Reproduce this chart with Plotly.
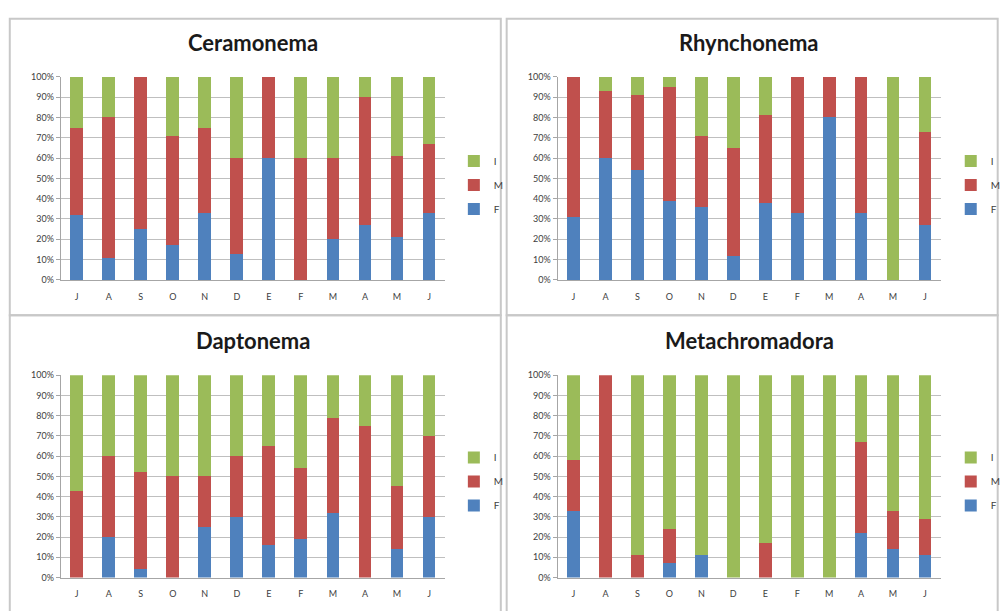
import plotly.graph_objects as go

months = ["J", "A", "S", "O", "N", "D", "E", "F", "M", "A", "M", "J"]
taxa = ["Ceramonema", "Rhynchonema", "Daptonema", "Metachromadora"]

# percentages per stage (F = females, M = males, I = juveniles)
cer_F = [32, 11, 25, 17, 33, 13, 60, 0, 20, 27, 21, 33]
cer_M = [43, 69, 75, 54, 42, 47, 40, 60, 40, 63, 40, 34]
cer_I = [25, 20, 0, 29, 25, 40, 0, 40, 40, 10, 39, 33]

rhy_F = [31, 60, 54, 39, 36, 12, 38, 33, 80, 33, 0, 27]
rhy_M = [69, 33, 37, 56, 35, 53, 43, 67, 20, 67, 0, 46]
rhy_I = [0, 7, 9, 5, 29, 35, 19, 0, 0, 0, 100, 27]

dap_F = [0, 20, 4, 0, 25, 30, 16, 19, 32, 0, 14, 30]
dap_M = [43, 40, 48, 50, 25, 30, 49, 35, 47, 75, 31, 40]
dap_I = [57, 40, 48, 50, 50, 40, 35, 46, 21, 25, 55, 30]

met_F = [33, 0, 0, 7, 11, 0, 0, 0, 0, 22, 14, 11]
met_M = [25, 100, 11, 17, 0, 0, 17, 0, 0, 45, 19, 18]
met_I = [42, 0, 89, 76, 89, 100, 83, 100, 100, 33, 67, 71]

series = [
    (cer_F, cer_M, cer_I),
    (rhy_F, rhy_M, rhy_I),
    (dap_F, dap_M, dap_I),
    (met_F, met_M, met_I),
]
stage_names = ["F", "M", "I"]
stage_rank = {"I": 1, "M": 2, "F": 3}
colors = {"F": "#4F81BD", "M": "#C0504D", "I": "#9BBB59"}

W, H = 1006, 611
# plot-area pixel boxes (x0, x1, ytop, ybottom)
boxes = [
    (62, 455, 72, 279),
    (570, 962, 72, 279),
    (62, 455, 376, 582),
    (570, 962, 376, 582),
]
legend_x = [464, 972, 464, 972]
legend_y = [143, 143, 445, 445]
panel_boxes = [(10, 512, 13, 315), (518, 1020, 13, 315), (10, 512, 315, 640), (518, 1020, 315, 640)]

fig = go.Figure()
xs = list(range(len(months)))
for i, (vals, box) in enumerate(zip(series, boxes)):
    ax = "" if i == 0 else str(i + 1)
    leg = "legend" if i == 0 else f"legend{i + 1}"
    for name, v in zip(stage_names, vals):
        fig.add_trace(go.Bar(
            x=xs, y=v, name=name, marker=dict(color=colors[name], line=dict(width=0)),
            xaxis="x" + ax, yaxis="y" + ax, legend=leg, legendgroup=f"{name}{i}",
            legendrank=stage_rank[name],
        ))

layout = dict(
    width=W, height=H, margin=dict(l=0, r=0, t=0, b=0),
    paper_bgcolor="white", plot_bgcolor="white",
    barmode="stack", bargap=0.6, showlegend=True,
    font=dict(family="Lato, Liberation Sans, sans-serif", color="#404040"),
)
shapes = []
annotations = []
for i, (box, name) in enumerate(zip(boxes, taxa)):
    x0, x1, yt, yb = box
    ax = "" if i == 0 else str(i + 1)
    layout["xaxis" + ax] = dict(
        domain=[x0 / W, x1 / W], anchor="y" + ax, range=[-0.5, 11.5],
        tickmode="array", tickvals=xs, ticktext=months, showgrid=False,
        showline=True, linecolor="#A6A6A6", linewidth=1, ticks="", zeroline=False,
        tickfont=dict(size=9, color="#404040"), ticklabelstandoff=8, fixedrange=True,
    )
    layout["yaxis" + ax] = dict(
        domain=[1 - yb / H, 1 - yt / H], anchor="x" + ax, range=[0, 100],
        tickmode="array", tickvals=list(range(0, 101, 10)),
        ticktext=[f"{v}%" for v in range(0, 101, 10)],
        showgrid=True, gridcolor="#BFBFBF", gridwidth=1,
        showline=True, linecolor="#A6A6A6", linewidth=1, ticks="outside",
        ticklen=4, tickcolor="#A6A6A6", zeroline=False,
        tickfont=dict(size=9, color="#404040"), fixedrange=True,
    )
    leg = "legend" if i == 0 else f"legend{i + 1}"
    layout[leg] = dict(
        x=legend_x[i] / W, y=1 - legend_y[i] / H, xanchor="left", yanchor="top",
        traceorder="grouped", tracegroupgap=5,
        font=dict(size=10, color="#404040"), bgcolor="rgba(0,0,0,0)",
        itemwidth=30,
    )
    annotations.append(dict(
        text=f"<b>{name}</b>", x=(x0 + x1) / 2 / W, y=1 - (yt - 35) / H,
        xref="paper", yref="paper", showarrow=False, xanchor="center", yanchor="middle",
        font=dict(size=22, color="#1a1a1a", family="Lato, Liberation Sans, sans-serif"),
    ))
for (px0, px1, py0, py1) in panel_boxes:
    shapes.append(dict(
        type="rect", xref="paper", yref="paper",
        x0=px0 / W, x1=px1 / W, y0=1 - py1 / H, y1=1 - py0 / H,
        line=dict(color="#C8C8C8", width=2), fillcolor="rgba(0,0,0,0)", layer="below",
    ))
layout["shapes"] = shapes
layout["annotations"] = annotations
fig.update_layout(**layout)
fig.write_html(
    "out.html",
    config={"displayModeBar": False},
    post_script="document.body.style.margin='0';document.body.style.overflow='hidden';",
)
